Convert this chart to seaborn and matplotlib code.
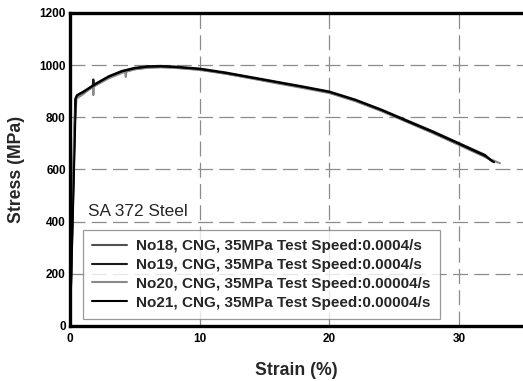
import numpy as np
import pandas as pd
import matplotlib
matplotlib.use("Agg")
import matplotlib.pyplot as plt
import seaborn as sns

# ---- data ----
labels = [
    "No18, CNG, 35MPa Test Speed:0.0004/s",
    "No19, CNG, 35MPa Test Speed:0.0004/s",
    "No20, CNG, 35MPa Test Speed:0.00004/s",
    "No21, CNG, 35MPa Test Speed:0.00004/s",
]
colors = ["#505050", "#1a1a1a", "#8a8a8a", "#000000"]

strain_18 = [0, 0.42, 0.55, 1.0, 2.0, 3.0, 4.0, 5.0, 6.0, 7.0, 8.0, 10.0, 12.0, 14.0, 16.0, 18.0, 20.0, 22.0, 24.0, 26.0, 28.0, 30.0, 32.0, 32.6]
stress_18 = [0, 866, 880, 893, 924, 953, 973, 985, 991, 993, 991, 983, 968, 950, 932, 914, 895, 864, 826, 783, 741, 695, 650, 630]

strain_19 = [0, 0.40, 0.52, 1.0, 1.75, 1.8, 1.85, 2.0, 3.0, 4.0, 5.0, 6.0, 7.0, 8.0, 10.0, 12.0, 14.0, 16.0, 18.0, 20.0, 22.0, 24.0, 26.0, 28.0, 30.0, 32.0, 32.5]
stress_19 = [0, 870, 884, 898, 922, 945, 926, 930, 958, 978, 990, 996, 997, 995, 987, 972, 954, 936, 918, 899, 868, 830, 788, 746, 701, 656, 634]

strain_20 = [0, 0.30, 0.50, 1.0, 1.75, 1.8, 1.85, 2.0, 3.0, 4.0, 4.25, 4.3, 4.35, 5.0, 6.0, 7.0, 8.0, 10.0, 12.0, 14.0, 16.0, 18.0, 20.0, 22.0, 24.0, 26.0, 28.0, 30.0, 32.0, 33.15]
stress_20 = [0, 720, 872, 888, 918, 885, 920, 923, 950, 970, 974, 955, 975, 984, 990, 992, 990, 982, 967, 949, 930, 912, 893, 862, 824, 782, 739, 694, 648, 624]

strain_21 = [0, 0.45, 0.58, 1.0, 2.0, 3.0, 4.0, 5.0, 6.0, 7.0, 8.0, 10.0, 12.0, 14.0, 16.0, 18.0, 20.0, 22.0, 24.0, 26.0, 28.0, 30.0, 32.0, 32.7]
stress_21 = [0, 874, 886, 896, 928, 956, 976, 988, 994, 995, 993, 985, 970, 952, 934, 916, 897, 866, 828, 785, 743, 698, 652, 628]

x_ticks = [0, 10, 20, 30]
y_ticks = [0, 200, 400, 600, 800, 1000, 1200]
annotation = "SA 372 Steel"

frames = []
for lab, sx, sy in zip(labels, [strain_18, strain_19, strain_20, strain_21],
                       [stress_18, stress_19, stress_20, stress_21]):
    frames.append(pd.DataFrame({"strain": sx, "stress": sy, "series": lab,
                                "order": np.arange(len(sx))}))
df = pd.concat(frames, ignore_index=True)

sns.set_style("white")
plt.rcParams["font.family"] = ["Liberation Sans", "DejaVu Sans"]

fig = plt.figure(figsize=(5.23, 3.81), dpi=100)
ax = fig.add_axes([70 / 523, 1 - 326 / 381, 453 / 523, 313 / 381])

sns.lineplot(data=df, x="strain", y="stress", hue="series", palette=colors,
             hue_order=labels, sort=False, estimator=None, units="series",
             linewidth=1.5, ax=ax)

ax.set_xlim(0, 453 / 12.97)
ax.set_ylim(0, 1200)
ax.set_xticks(x_ticks)
ax.set_yticks(y_ticks)
ax.grid(True, color="#8c8c8c", linewidth=0.9, linestyle=(0, (12, 5)))
ax.set_axisbelow(True)

for side in ["left", "bottom", "top"]:
    ax.spines[side].set_linewidth(2.4)
    ax.spines[side].set_color("black")
ax.spines["right"].set_visible(False)

ax.tick_params(axis="both", direction="in", length=4.5, width=2, colors="black",
               labelsize=8.5, pad=3)
ax.tick_params(axis="x", pad=5)
for lbl in ax.get_xticklabels() + ax.get_yticklabels():
    lbl.set_fontweight("bold")

ax.set_xlabel("Strain (%)", fontsize=12.7, fontweight="bold", labelpad=12)
ax.set_ylabel("Stress (MPa)", fontsize=12.7, fontweight="bold", labelpad=10)

ax.text(18 / 453, (326 - 216) / 313, annotation, transform=ax.transAxes,
        fontsize=12.4, va="baseline", ha="left")

leg = ax.legend(loc="lower left", bbox_to_anchor=((82.7 - 70) / 453, (326 - 318.7) / 313),
                borderaxespad=0, frameon=True, fancybox=False,
                prop={"size": 11, "weight": "bold"}, handlelength=2.3,
                handletextpad=0.6, labelspacing=0.31, borderpad=0.6)
leg.get_frame().set_edgecolor("#808080")
leg.get_frame().set_linewidth(0.9)
for h in leg.get_lines():
    h.set_linewidth(1.5)

fig.savefig("out.png", dpi=100)
